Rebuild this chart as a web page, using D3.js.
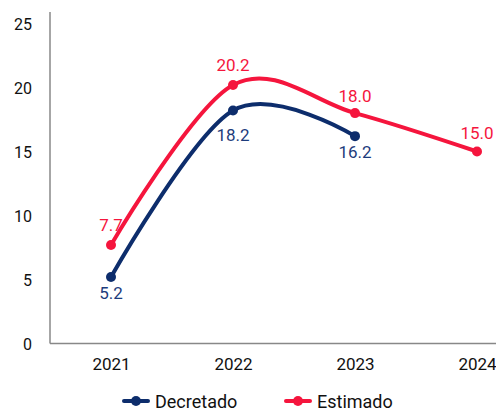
<!DOCTYPE html>
<html><head><meta charset="utf-8">
<script src="https://cdn.jsdelivr.net/npm/d3@7"></script>
<style>body{margin:0;background:#fff}svg{display:block}text{font-family:Roboto,"Noto Sans",sans-serif}</style>
</head><body><svg id="c" width="496" height="410"></svg>
<script>
const years = ["2021","2022","2023","2024"];
const decretado = [5.2, 18.2, 16.2, null];
const estimado = [7.7, 20.2, 18.0, 15.0];
const yTicks = [0,5,10,15,20,25];
const seriesNames = ["Decretado","Estimado"];
const colors = ["#0d2d6c","#f5153d"];

const svg = d3.select("#c");
const x = d3.scalePoint().domain(years).range([111,477]);
const y = d3.scaleLinear().domain([0,25]).range([343.5,23.5]);

// axes
svg.append("line").attr("x1",50).attr("x2",50).attr("y1",12).attr("y2",y(0)).attr("stroke","#888").attr("stroke-width",1.5);
svg.append("line").attr("x1",50).attr("x2",496).attr("y1",y(0)).attr("y2",y(0)).attr("stroke","#888").attr("stroke-width",1.5);

const yAxis = d3.axisLeft(y).tickValues(yTicks).tickSize(0).tickPadding(0);
const gy = svg.append("g").attr("transform","translate(32,0)").call(yAxis);
gy.select(".domain").remove();
gy.selectAll("text").attr("font-size",16).attr("fill","#111").attr("dy","0.36em");

const xAxis = d3.axisBottom(x).tickSize(0).tickPadding(0);
const gx = svg.append("g").attr("transform","translate(0,370)").call(xAxis);
gx.select(".domain").remove();
gx.selectAll("text").attr("font-size",17).attr("fill","#111").attr("dy","0");

const data = [decretado, estimado].map((vals,i)=>({name:seriesNames[i],color:colors[i],pts:years.map((yr,j)=>({yr,v:vals[j],j})).filter(d=>d.v!=null)}));

const line = d3.line().x(d=>x(d.yr)).y(d=>y(d.v)).curve(d3.curveCatmullRom.alpha(0));

// label offsets (px from point to text baseline), per series/point
const labelDy = [[22,30,22,22],[-14,-14,-11,-13]];
const labelColors = ["#1d3c7c","#f5153d"];

data.forEach((s,i)=>{
  svg.append("path").attr("d",line(s.pts)).attr("fill","none").attr("stroke",s.color).attr("stroke-width",4).attr("stroke-linecap","round");
  svg.selectAll(null).data(s.pts).enter().append("circle").attr("cx",d=>x(d.yr)).attr("cy",d=>y(d.v)).attr("r",5).attr("fill",s.color);
  svg.selectAll(null).data(s.pts).enter().append("text").attr("x",d=>x(d.yr)).attr("y",d=>y(d.v)+labelDy[i][d.j])
    .attr("text-anchor","middle").attr("font-size",17).attr("fill",labelColors[i]).text(d=>d.v.toFixed(1));
});

// legend
const legX = [124, 286];
data.forEach((s,i)=>{
  const g = svg.append("g").attr("transform",`translate(${legX[i]},401)`);
  g.append("line").attr("x1",0).attr("x2",24).attr("y1",0).attr("y2",0).attr("stroke",s.color).attr("stroke-width",4).attr("stroke-linecap","round");
  g.append("circle").attr("cx",12).attr("cy",0).attr("r",5).attr("fill",s.color);
  g.append("text").attr("x",31).attr("y",6.5).attr("font-size",18).attr("fill","#111").text(s.name);
});
</script></body></html>
